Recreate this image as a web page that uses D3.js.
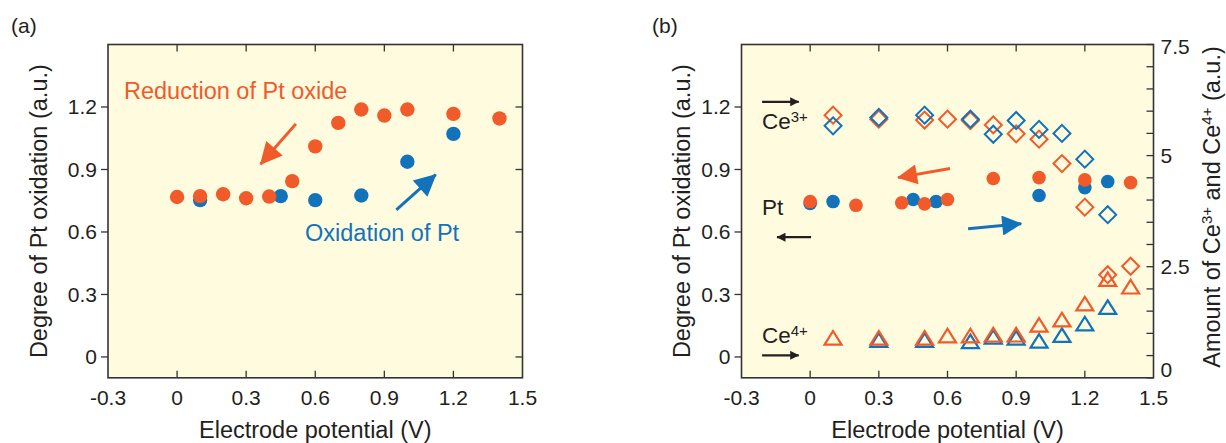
<!DOCTYPE html>
<html>
<head>
<meta charset="utf-8">
<script src="https://cdn.jsdelivr.net/npm/d3@7"></script>
<style>
  html, body { margin: 0; padding: 0; background: #ffffff; }
  svg { display: block; }
  text { font-family: "Liberation Sans", Arial, Helvetica, sans-serif; fill: #231f20; }
</style>
</head>
<body>
<svg id="chart" width="1226" height="443"></svg>
<script>
// ---------------- DATA ----------------
// Panel (a)
const aOxX  = [0.1, 0.45, 0.6, 0.8, 1.0, 1.2];
const aOxY  = [0.753, 0.772, 0.753, 0.775, 0.937, 1.071];
const aRedX = [0, 0.1, 0.2, 0.3, 0.4, 0.5, 0.6, 0.7, 0.8, 0.9, 1.0, 1.2, 1.4];
const aRedY = [0.768, 0.772, 0.781, 0.762, 0.770, 0.844, 1.011, 1.124, 1.188, 1.159, 1.188, 1.167, 1.145];

// Panel (b) - Pt (left axis)
const bPtOxX  = [0, 0.1, 0.45, 0.55, 1.0, 1.2, 1.3];
const bPtOxY  = [0.737, 0.746, 0.756, 0.746, 0.775, 0.813, 0.842];
const bPtRedX = [0, 0.2, 0.4, 0.5, 0.6, 0.8, 1.0, 1.2, 1.4];
const bPtRedY = [0.746, 0.728, 0.740, 0.735, 0.756, 0.857, 0.861, 0.850, 0.837];

// Panel (b) - Ce3+ (right axis)
const ce3OxX  = [0.1, 0.3, 0.5, 0.7, 0.8, 0.9, 1.0, 1.1, 1.2, 1.3];
const ce3OxY  = [5.67, 5.86, 5.91, 5.82, 5.48, 5.79, 5.59, 5.50, 4.92, 3.67];
const ce3RedX = [0.1, 0.3, 0.5, 0.6, 0.7, 0.8, 0.9, 1.0, 1.1, 1.2, 1.3, 1.4];
const ce3RedY = [5.91, 5.82, 5.80, 5.82, 5.79, 5.69, 5.49, 5.37, 4.82, 3.84, 2.32, 2.51];

// Panel (b) - Ce4+ (right axis)
const ce4OxX  = [0.3, 0.5, 0.7, 0.8, 0.9, 1.0, 1.1, 1.2, 1.3];
const ce4OxY  = [0.85, 0.85, 0.82, 0.92, 0.90, 0.83, 0.96, 1.22, 1.59];
const ce4RedX = [0.1, 0.3, 0.5, 0.6, 0.7, 0.8, 0.9, 1.0, 1.1, 1.2, 1.3, 1.4];
const ce4RedY = [0.90, 0.90, 0.90, 0.95, 0.95, 0.97, 0.97, 1.19, 1.31, 1.67, 2.22, 2.05];

// Tick labels
const xTicks = [-0.3, 0, 0.3, 0.6, 0.9, 1.2, 1.5];
const xTickLabels = ["-0.3", "0", "0.3", "0.6", "0.9", "1.2", "1.5"];
const yTicks = [0, 0.3, 0.6, 0.9, 1.2];
const yTickLabels = ["0", "0.3", "0.6", "0.9", "1.2"];
const yRightMajor = [0, 2.5, 5, 7.5];
const yRightMajorLabels = ["0", "2.5", "5", "7.5"];
const yRightMinor = [0.5, 1, 1.5, 2, 3, 3.5, 4, 4.5, 5.5, 6, 6.5, 7];

// ---------------- STYLE ----------------
const ORANGE = "#f15a29";
const BLUE = "#1273bb";
const BG = "#fffbdf";
const FRAME = "#333333";

const svg = d3.select("#chart");

const yTop = 44.5, yBot = 377.8;
const xA = d3.scaleLinear().domain([-0.3, 1.5]).range([108, 522.5]);
const xB = d3.scaleLinear().domain([-0.3, 1.5]).range([741.5, 1153.5]);
const yL = d3.scaleLinear().domain([-0.1, 1.5]).range([yBot, yTop]);
const yR = d3.scaleLinear().domain([0, 7.5]).range([yBot, yTop]);

// arrowhead markers
const defs = svg.append("defs");
function mk(id, color, w, h) {
  defs.append("marker").attr("id", id)
    .attr("viewBox", "0 0 10 10").attr("refX", 9.5).attr("refY", 5)
    .attr("markerUnits", "userSpaceOnUse")
    .attr("markerWidth", w).attr("markerHeight", h)
    .attr("orient", "auto")
    .append("path").attr("d", "M0,0 L10,5 L0,10 Z").attr("fill", color);
}
mk("hO", ORANGE, 24, 22);
mk("hB", BLUE, 24, 22);
mk("hOb", ORANGE, 22, 20);
mk("hBb", BLUE, 22, 20);
mk("hK", "#231f20", 11, 9);

function frame(x, label, rightTicks) {
  const g = svg.append("g");
  const [x0, x1] = x.range();
  g.append("rect").attr("x", x0).attr("y", yTop).attr("width", x1 - x0).attr("height", yBot - yTop)
    .attr("fill", BG);
  const tickVals = xTicks.slice(1, -1);
  // top & bottom ticks (inward)
  g.selectAll(".tb").data(tickVals).join("line")
    .attr("x1", d => x(d)).attr("x2", d => x(d)).attr("y1", yBot).attr("y2", yBot - 7)
    .attr("stroke", FRAME).attr("stroke-width", 1.3);
  g.selectAll(".tt").data(tickVals).join("line")
    .attr("x1", d => x(d)).attr("x2", d => x(d)).attr("y1", yTop).attr("y2", yTop + 7)
    .attr("stroke", FRAME).attr("stroke-width", 1.3);
  // left ticks (outward)
  g.selectAll(".tl").data(yTicks).join("line")
    .attr("x1", x0).attr("x2", x0 - 7).attr("y1", d => yL(d)).attr("y2", d => yL(d))
    .attr("stroke", FRAME).attr("stroke-width", 1.3);
  // x labels
  g.selectAll(".xl").data(xTicks).join("text")
    .attr("x", d => x(d)).attr("y", 405).attr("text-anchor", "middle")
    .attr("font-size", 21).text((d, i) => xTickLabels[i]);
  // y labels
  g.selectAll(".yl").data(yTicks).join("text")
    .attr("x", x0 - 11).attr("y", d => yL(d) + 7.5).attr("text-anchor", "end")
    .attr("font-size", 21).text((d, i) => yTickLabels[i]);
  // right ticks
  if (rightTicks === "left") {
    g.selectAll(".tr").data(yTicks).join("line")
      .attr("x1", x1).attr("x2", x1 - 7).attr("y1", d => yL(d)).attr("y2", d => yL(d))
      .attr("stroke", FRAME).attr("stroke-width", 1.3);
  } else {
    g.selectAll(".trm").data(yRightMajor.concat(yRightMinor)).join("line")
      .attr("x1", x1).attr("x2", x1 - 7).attr("y1", d => yR(d)).attr("y2", d => yR(d))
      .attr("stroke", FRAME).attr("stroke-width", 1.3);
    g.selectAll(".yrl").data(yRightMajor).join("text")
      .attr("x", x1 + 7).attr("y", (d, i) => i === 0 ? yR(d) - 1 : (i === 3 ? yR(d) + 9 : yR(d) + 7.5))
      .attr("text-anchor", "start").attr("font-size", 21).text((d, i) => yRightMajorLabels[i]);
  }
  g.append("rect").attr("x", x0).attr("y", yTop).attr("width", x1 - x0).attr("height", yBot - yTop)
    .attr("fill", "none").attr("stroke", FRAME).attr("stroke-width", 1.6);
  // x title
  svg.append("text").attr("x", (x0 + x1) / 2).attr("y", 438).attr("text-anchor", "middle")
    .attr("font-size", 23.5).text("Electrode potential (V)");
  return g;
}

function zip(xs, ys) { return xs.map((v, i) => [v, ys[i]]); }

function circles(g, x, y, data, color, r) {
  g.append("g").selectAll("circle").data(data).join("circle")
    .attr("cx", d => x(d[0])).attr("cy", d => y(d[1])).attr("r", r).attr("fill", color);
}

const diamondSym = d3.symbol().type(d3.symbolSquare).size(144);
const triType = {
  draw(ctx, size) {
    const w = Math.sqrt(size * 4 / Math.sqrt(3));
    const h = w * 0.8;
    ctx.moveTo(0, -h / 2); ctx.lineTo(w / 2, h / 2); ctx.lineTo(-w / 2, h / 2); ctx.closePath();
  }
};
const triSym = d3.symbol().type(triType).size(125);

function diamonds(g, x, y, data, color) {
  g.append("g").selectAll("path").data(data).join("path")
    .attr("d", diamondSym)
    .attr("transform", d => `translate(${x(d[0])},${y(d[1])}) rotate(45)`)
    .attr("fill", "none").attr("stroke", color).attr("stroke-width", 2);
}
function triangles(g, x, y, data, color) {
  g.append("g").selectAll("path").data(data).join("path")
    .attr("d", triSym)
    .attr("transform", d => `translate(${x(d[0])},${y(d[1])})`)
    .attr("fill", "none").attr("stroke", color).attr("stroke-width", 2.2).attr("stroke-linejoin", "miter");
}
function arrow(x, y, from, to, color, width, marker) {
  svg.append("line")
    .attr("x1", x(from[0])).attr("y1", y(from[1]))
    .attr("x2", x(to[0])).attr("y2", y(to[1]))
    .attr("stroke", color).attr("stroke-width", width)
    .attr("marker-end", `url(#${marker})`);
}

// ---------------- PANEL (a) ----------------
const gA = frame(xA, "(a)", "left");
circles(gA, xA, yL, zip(aOxX, aOxY), BLUE, 7.2);
circles(gA, xA, yL, zip(aRedX, aRedY), ORANGE, 7.2);

const aArrowRed = [[0.516, 1.119], [0.363, 0.926]];
const aArrowBlue = [[0.952, 0.706], [1.123, 0.875]];
arrow(xA, yL, aArrowRed[0], aArrowRed[1], ORANGE, 3, "hO");
arrow(xA, yL, aArrowBlue[0], aArrowBlue[1], BLUE, 3, "hB");

svg.append("text").attr("x", 124).attr("y", 99).attr("font-size", 23.5)
  .style("fill", ORANGE).text("Reduction of Pt oxide");
svg.append("text").attr("x", 305).attr("y", 241).attr("font-size", 23.5)
  .style("fill", BLUE).text("Oxidation of Pt");

svg.append("text").attr("x", 11).attr("y", 33).attr("font-size", 21).text("(a)");
svg.append("text").attr("transform", `translate(46.5,${(yTop + yBot) / 2}) rotate(-90)`)
  .attr("text-anchor", "middle").attr("font-size", 23.5).text("Degree of Pt oxidation (a.u.)");

// ---------------- PANEL (b) ----------------
const gB = frame(xB, "(b)", "right");
diamonds(gB, xB, yR, zip(ce3RedX, ce3RedY), ORANGE);
diamonds(gB, xB, yR, zip(ce3OxX, ce3OxY), BLUE);
triangles(gB, xB, yR, zip(ce4OxX, ce4OxY), BLUE);
triangles(gB, xB, yR, zip(ce4RedX, ce4RedY), ORANGE);
circles(gB, xB, yL, zip(bPtOxX, bPtOxY), BLUE, 6.8);
circles(gB, xB, yL, zip(bPtRedX, bPtRedY), ORANGE, 6.8);

const bArrowRed = [[0.611, 0.905], [0.384, 0.861]];
const bArrowBlue = [[0.690, 0.615], [0.922, 0.640]];
arrow(xB, yL, bArrowRed[0], bArrowRed[1], ORANGE, 3, "hOb");
arrow(xB, yL, bArrowBlue[0], bArrowBlue[1], BLUE, 3, "hBb");

// black arrows pointing to axes
const kArrowCe3 = [[-0.21, 1.225], [-0.05, 1.225]];
const kArrowPt  = [[0.004, 0.575], [-0.145, 0.575]];
const kArrowCe4 = [[-0.21, 0.008], [-0.05, 0.008]];
arrow(xB, yL, kArrowCe3[0], kArrowCe3[1], "#231f20", 2.2, "hK");
arrow(xB, yL, kArrowPt[0], kArrowPt[1], "#231f20", 2.2, "hK");
arrow(xB, yL, kArrowCe4[0], kArrowCe4[1], "#231f20", 2.2, "hK");

function ceLabel(x, y, sup) {
  const t = svg.append("text").attr("x", x).attr("y", y).attr("font-size", 22.5);
  t.append("tspan").text("Ce");
  t.append("tspan").attr("font-size", 15).attr("dy", -7).text(sup);
}
ceLabel(762, 128.5, "3+");
ceLabel(762, 343, "4+");
svg.append("text").attr("x", 762).attr("y", 214.5).attr("font-size", 22.5).text("Pt");

svg.append("text").attr("x", 652).attr("y", 33).attr("font-size", 21).text("(b)");
svg.append("text").attr("transform", `translate(690,${(yTop + yBot) / 2}) rotate(-90)`)
  .attr("text-anchor", "middle").attr("font-size", 23.5).text("Degree of Pt oxidation (a.u.)");

const rt = svg.append("text").attr("transform", `translate(1220,207) rotate(-90)`)
  .attr("text-anchor", "middle").attr("font-size", 23.5);
rt.append("tspan").text("Amount of Ce");
rt.append("tspan").attr("font-size", 15).attr("dy", -8).text("3+");
rt.append("tspan").attr("dy", 8).text(" and Ce");
rt.append("tspan").attr("font-size", 15).attr("dy", -8).text("4+");
rt.append("tspan").attr("dy", 8).text(" (a.u.)");
</script>
</body>
</html>
